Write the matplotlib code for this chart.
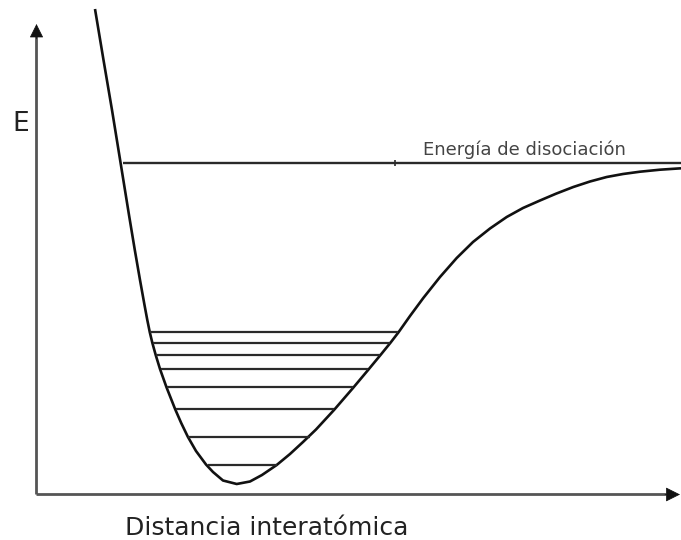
import matplotlib
matplotlib.use("Agg")
from matplotlib import pyplot as plt

# potential curve read along its length: interatomic distance r, energy E
r_curve = [59, 67.5, 76, 84.6, 93, 98.8, 104, 108.5, 111.3, 113.8, 116.3, 119.7,
           124, 130.5, 139.2, 145.2, 151.8, 160, 170, 177, 187, 200.7, 214, 226,
           240.7, 254, 267, 280, 298, 317, 332.5, 344.5, 354.5, 362.5, 374,
           387.3, 404, 420.7, 437, 454, 470.7, 487, 504, 520, 537.3, 554, 570.7,
           587, 604, 624, 645]
E_curve = [485, 434, 384, 331, 279, 244, 214, 189, 174, 161.7, 151.3, 139, 125,
           106.7, 84.7, 71, 57.3, 43, 29.5, 22, 13.5, 10, 12.5, 19, 29, 40,
           52, 64.5, 84, 106, 124.5, 139, 151.3, 161.7, 178, 196, 217, 236,
           252, 265.5, 277, 286, 293.5, 300.3, 307, 312.5, 317, 320, 322.3,
           324.3, 325.7]

# vibrational levels: energy, left and right ends on the curve
E_levels = [161.7, 151.3, 139, 125, 106.7, 84.7, 57.3, 29]
r_left = [114.3, 116.8, 120.2, 124.5, 131, 139.7, 152.3, 171.5]
r_right = [362.3, 354.3, 344.3, 332.3, 316.8, 297.8, 274.3, 240.7]

# dissociation energy line
E_diss = 330.7
r_diss = [87, 645]
r_mark = 359

fig = plt.figure(figsize=(6.81, 5.40), dpi=100)
ax = fig.add_axes([0, 0, 1, 1])
ax.set_xlim(-36, 645)
ax.set_ylim(-46, 494)
ax.axis("off")

# axes with arrow heads
ax.plot([0, 0], [0, 458], color="#555555", lw=2.0, solid_capstyle="butt")
ax.plot([0, 630], [0, 0], color="#555555", lw=2.0, solid_capstyle="butt")
ax.annotate("", xy=(0.5, 470), xytext=(0.5, 455),
            arrowprops=dict(arrowstyle="-|>", color="#111111", lw=0.5,
                            mutation_scale=22, shrinkA=0, shrinkB=0))
ax.annotate("", xy=(644, -0.5), xytext=(629, -0.5),
            arrowprops=dict(arrowstyle="-|>", color="#111111", lw=0.5,
                            mutation_scale=23, shrinkA=0, shrinkB=0))

ax.plot(r_curve, E_curve, color="#111111", lw=1.9, solid_capstyle="butt",
        solid_joinstyle="round")
ax.hlines(E_levels, r_left, r_right, color="#2a2a2a", lw=1.6)
ax.hlines(E_diss, r_diss[0], r_diss[1], color="#2a2a2a", lw=1.7)
ax.plot([r_mark], [E_diss], marker="|", ms=4, mew=1.2, color="#2a2a2a")

ax.text(386.7, E_diss + 8, "Energía de disociación", fontsize=13,
        color="#444444", ha="left", va="baseline")
ax.text(-23.5, 370, "E", fontsize=19, color="#222222", ha="left",
        va="center")
ax.text(89, -41, "Distancia interatómica", fontsize=18, color="#222222",
        ha="left", va="baseline")

fig.savefig("out.png", dpi=100)
